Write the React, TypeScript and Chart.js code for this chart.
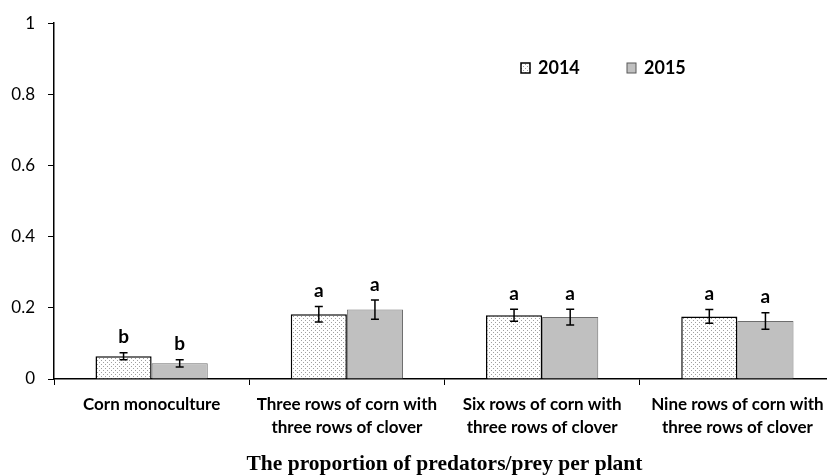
import React, { useEffect, useRef } from "react";
import { Chart, registerables } from "chart.js";

Chart.register(...registerables);

const categories: string[][] = [
  ["Corn monoculture"],
  ["Three rows of corn with", "three rows of clover"],
  ["Six rows of corn with", "three rows of clover"],
  ["Nine rows of corn with", "three rows of clover"],
];
const seriesLabels = ["2014", "2015"];
const values2014 = [0.064, 0.182, 0.179, 0.176];
const values2015 = [0.044, 0.195, 0.174, 0.163];
const errors2014 = [0.01, 0.022, 0.017, 0.019];
const errors2015 = [0.01, 0.027, 0.022, 0.023];
const letters2014 = ["b", "a", "a", "a"];
const letters2015 = ["b", "a", "a", "a"];
const yTicks = [0, 0.2, 0.4, 0.6, 0.8, 1];
const xTitle = "The proportion of predators/prey per plant";

function makePattern(): CanvasPattern | string {
  const c = document.createElement("canvas");
  c.width = 4;
  c.height = 4;
  const g = c.getContext("2d");
  if (!g) return "#fff";
  g.fillStyle = "#ffffff";
  g.fillRect(0, 0, 4, 4);
  g.fillStyle = "#a0a0a0";
  g.fillRect(1, 0, 1, 1);
  g.fillRect(3, 2, 1, 1);
  const p = g.createPattern(c, "repeat");
  return p || "#fff";
}

export default function App() {
  const ref = useRef<HTMLCanvasElement | null>(null);

  useEffect(() => {
    if (!ref.current) return;
    const pattern = makePattern();
    const errs = [errors2014, errors2015];
    const letters = [letters2014, letters2015];

    const errorPlugin = {
      id: "errorBars",
      afterDatasetsDraw(chart: any) {
        const ctx = chart.ctx;
        const ys = chart.scales.y;
        ctx.save();
        chart.data.datasets.forEach((ds: any, i: number) => {
          const meta = chart.getDatasetMeta(i);
          meta.data.forEach((bar: any, j: number) => {
            const v = ds.data[j];
            const e = errs[i][j];
            const top = ys.getPixelForValue(v + e);
            const bot = ys.getPixelForValue(v - e);
            const x = bar.x;
            ctx.strokeStyle = "#000";
            ctx.lineWidth = 1.5;
            ctx.beginPath();
            ctx.moveTo(x, top);
            ctx.lineTo(x, bot);
            ctx.moveTo(x - 4, top);
            ctx.lineTo(x + 4, top);
            ctx.moveTo(x - 4, bot);
            ctx.lineTo(x + 4, bot);
            ctx.stroke();
            ctx.fillStyle = "#000";
            ctx.font = "bold 19px Lato";
            ctx.textAlign = "center";
            ctx.textBaseline = "bottom";
            ctx.fillText(letters[i][j], x, top - 6);
          });
        });
        ctx.restore();
      },
    };

    const legendPlugin = {
      id: "customLegend",
      afterDraw(chart: any) {
        const ctx = chart.ctx;
        ctx.save();
        const items = [
          { x: 521, fill: pattern, stroke: "#000", lw: 1.5 },
          { x: 627, fill: "#c0c0c0", stroke: "#595959", lw: 1 },
        ];
        items.forEach((it, i) => {
          ctx.fillStyle = it.fill;
          ctx.fillRect(it.x, 63, 9, 10);
          ctx.strokeStyle = it.stroke;
          ctx.lineWidth = it.lw;
          ctx.strokeRect(it.x, 63, 9, 10);
          ctx.fillStyle = "#000";
          ctx.font = "bold 18px Lato";
          ctx.textAlign = "left";
          ctx.textBaseline = "middle";
          ctx.fillText(chart.data.datasets[i].label, it.x + 17, 68);
        });
        ctx.restore();
      },
    };

    const chart = new Chart(ref.current, {
      type: "bar",
      data: {
        labels: categories,
        datasets: [
          {
            label: seriesLabels[0],
            data: values2014,
            backgroundColor: pattern as any,
            borderColor: "#000",
            borderWidth: 1.5,
            categoryPercentage: 0.575,
            barPercentage: 1,
          },
          {
            label: seriesLabels[1],
            data: values2015,
            backgroundColor: "#c0c0c0",
            borderColor: "#6e6e6e",
            borderWidth: 1,
            categoryPercentage: 0.575,
            barPercentage: 1,
          },
        ],
      },
      options: {
        animation: false,
        responsive: false,
        devicePixelRatio: 1,
        layout: { padding: { top: 21, right: 1, left: 0, bottom: 0 } },
        plugins: {
          legend: { display: false },
          tooltip: { enabled: false },
        },
        scales: {
          x: {
            grid: {
              display: true,
              offset: true,
              drawOnChartArea: false,
              tickLength: 6,
              color: "#000",
              lineWidth: 1,
            },
            border: { display: true, color: "#000", width: 1.5 },
            ticks: {
              color: "#000",
              font: { family: "Lato", size: 17, weight: "bold", lineHeight: 1.35 },
              padding: 8,
              maxRotation: 0,
              autoSkip: false,
            },
            title: {
              display: true,
              text: xTitle,
              color: "#000",
              font: { family: "Liberation Serif", size: 21.5, weight: "bold", lineHeight: 1.1 },
              padding: { top: 0, bottom: 0 },
            },
            afterFit(s: any) {
              s.height = 97;
            },
          } as any,
          y: {
            min: 0,
            max: 1,
            afterBuildTicks(s: any) {
              s.ticks = yTicks.map((v) => ({ value: v }));
            },
            grid: {
              display: true,
              drawOnChartArea: false,
              tickLength: 6,
              color: "#000",
              lineWidth: 1,
            },
            border: { display: true, color: "#000", width: 1.5 },
            ticks: {
              color: "#000",
              font: { family: "Lato", size: 17 },
              padding: 13,
              callback: (v: any) => String(v),
            },
            afterFit(s: any) {
              s.width = 54;
            },
          } as any,
        },
      },
      plugins: [errorPlugin, legendPlugin],
    });
    return () => chart.destroy();
  }, []);

  return (
    <div
      style={{
        position: "fixed",
        left: 0,
        top: 0,
        width: 827,
        height: 476,
        overflow: "hidden",
        background: "#fff",
      }}
    >
      <canvas ref={ref} width={836} height={476} style={{ width: 836, height: 476, display: "block" }} />
    </div>
  );
}
